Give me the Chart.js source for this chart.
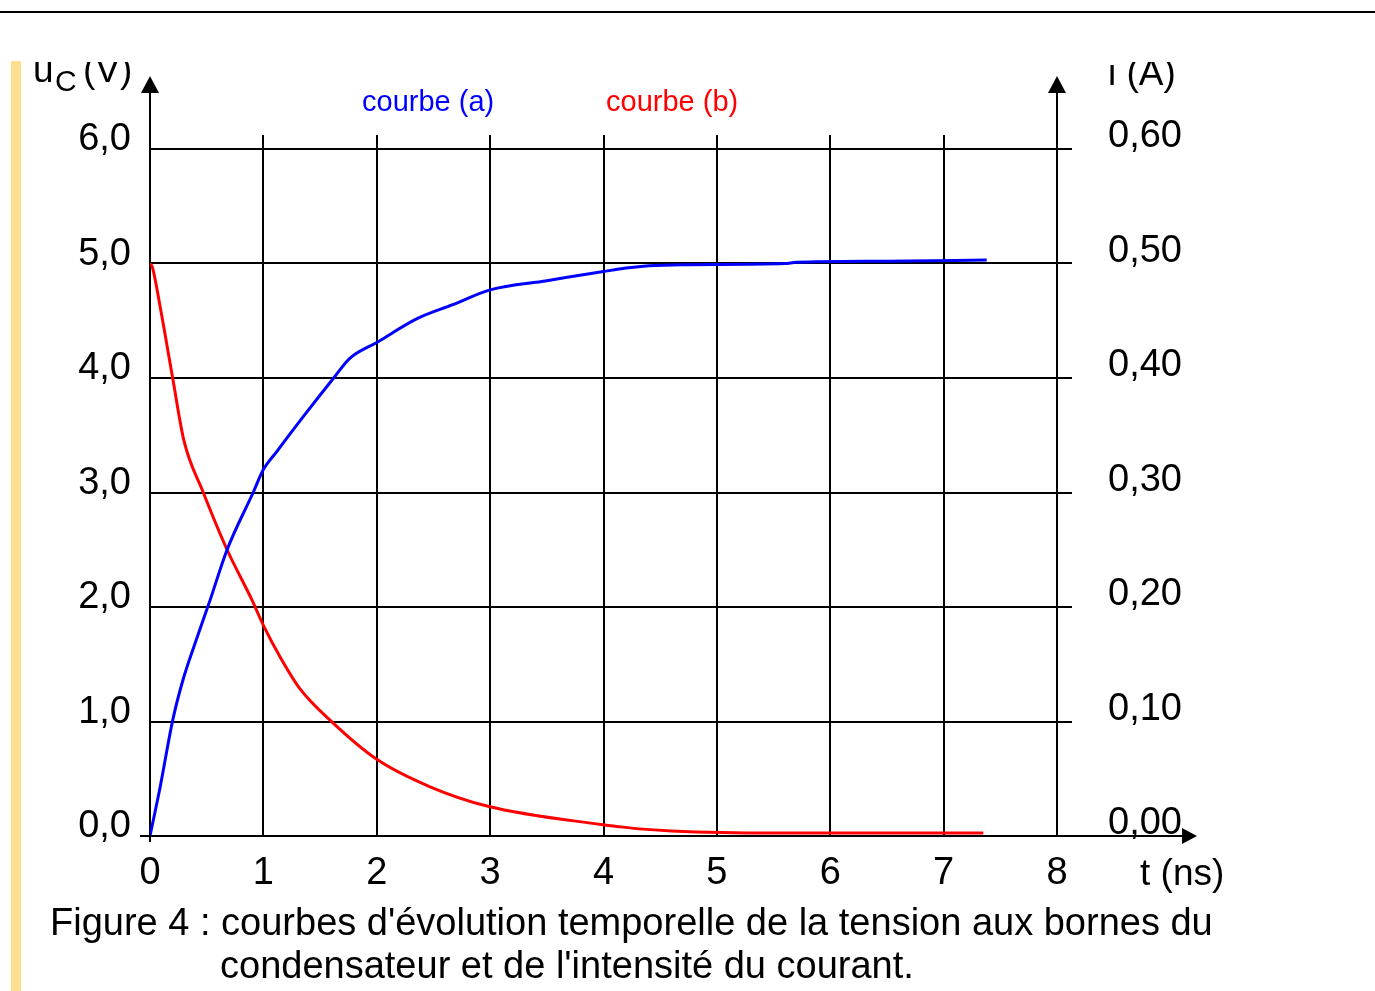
<!DOCTYPE html>
<html>
<head>
<meta charset="utf-8">
<script src="https://cdn.jsdelivr.net/npm/chart.js"></script>
<style>
  html, body { margin: 0; padding: 0; background: #fff; }
  body { width: 1375px; height: 991px; position: relative; overflow: hidden; font-family: "Liberation Sans", Arial, sans-serif; }
  #topline { position: absolute; left: 0; top: 11px; width: 1375px; height: 2px; background: #000; }
  #bar { position: absolute; left: 11px; top: 61px; width: 10px; height: 930px; background: #fddf8e; }
  #wrap { position: absolute; left: 0; top: 62px; width: 1375px; height: 929px; }
  .cap { position: absolute; font-size: 38px; line-height: 44px; color: #000; white-space: nowrap; }
</style>
</head>
<body>
<div id="topline"></div>
<div id="bar"></div>
<div id="wrap"><canvas id="graph" width="1375" height="929"></canvas></div>
<div class="cap" style="left:50px; top:900px;">Figure 4 : courbes d'évolution temporelle de la tension aux bornes du</div>
<div class="cap" style="left:220px; top:943px;">condensateur et de l'intensité du courant.</div>
<script>
// courbe (a) : tension uc (V)
var tA = [0, 0.09, 0.20, 0.29, 0.40, 0.53, 0.68, 0.91, 1.0, 1.12, 1.35, 1.62, 1.76, 2.0, 2.36, 2.67, 3.0, 3.5, 4.0, 4.2, 4.4, 4.7, 5.6, 5.7, 6.5, 7.38];
var uA = [0, 0.43, 1.01, 1.36, 1.69, 2.06, 2.50, 3.0, 3.20, 3.36, 3.66, 4.0, 4.17, 4.31, 4.52, 4.64, 4.77, 4.85, 4.93, 4.96, 4.98, 4.99, 5.0, 5.01, 5.02, 5.03];
// courbe (b) : intensite i (A)
var tB = [0, 0.02, 0.09, 0.20, 0.30, 0.47, 0.68, 0.90, 1.0, 1.15, 1.32, 1.59, 2.0, 2.47, 2.98, 3.98, 4.15, 4.35, 4.6, 5.5, 7.35];
var iB = [0.50, 0.497, 0.462, 0.400, 0.345, 0.300, 0.250, 0.206, 0.184, 0.156, 0.129, 0.101, 0.067, 0.043, 0.026, 0.010, 0.008, 0.006, 0.0044, 0.0026, 0.0026];

var tTicks = [0, 1, 2, 3, 4, 5, 6, 7, 8];
var uTicks = [0, 1, 2, 3, 4, 5, 6];
var iTicks = [0, 0.1, 0.2, 0.3, 0.4, 0.5, 0.6];

function pts(xs, ys) {
  var out = [];
  for (var k = 0; k < xs.length; k++) out.push({x: xs[k], y: ys[k]});
  return out;
}

var axisDeco = {
  id: 'axisDeco',
  afterDraw: function(chart) {
    var ctx = chart.ctx, a = chart.chartArea;
    var sx = chart.scales.x, sy = chart.scales.y;
    ctx.save();
    ctx.strokeStyle = '#000';
    ctx.fillStyle = '#000';
    ctx.lineWidth = 2;
    ctx.beginPath();
    // vertical lines going past the top
    for (var k = 1; k < tTicks.length - 1; k++) {
      var px = Math.round(sx.getPixelForValue(tTicks[k]));
      ctx.moveTo(px, a.top - 14); ctx.lineTo(px, a.top);
    }
    // horizontal lines going past the right axis
    for (var j = 1; j < uTicks.length; j++) {
      var py = Math.round(sy.getPixelForValue(uTicks[j]));
      ctx.moveTo(a.right, py); ctx.lineTo(a.right + 15, py);
    }
    // axes
    var L = Math.round(a.left), R = Math.round(a.right), B = Math.round(a.bottom);
    ctx.moveTo(L, a.top); ctx.lineTo(L, 31);
    ctx.moveTo(R, a.top); ctx.lineTo(R, 31);
    ctx.moveTo(L - 10, B); ctx.lineTo(R + 126, B);
    ctx.moveTo(L, B); ctx.lineTo(L, B + 6);
    ctx.stroke();
    // arrow heads
    function tri(x1, y1, x2, y2, x3, y3) {
      ctx.beginPath(); ctx.moveTo(x1, y1); ctx.lineTo(x2, y2); ctx.lineTo(x3, y3); ctx.closePath(); ctx.fill();
    }
    tri(L, 14, L - 9, 31, L + 9, 31);
    tri(R, 14, R - 9, 31, R + 9, 31);
    tri(R + 140, B, R + 125, B - 8, R + 125, B + 8);

    // axis titles
    ctx.textBaseline = 'alphabetic';
    ctx.textAlign = 'left';
    ctx.font = '37px "Liberation Sans", Arial, sans-serif';
    ctx.fillText('u', 33, 20);
    ctx.fillText('(V)', 83, 20);
    ctx.font = '30px "Liberation Sans", Arial, sans-serif';
    ctx.fillText('C', 55, 29);
    ctx.font = '37px "Liberation Sans", Arial, sans-serif';
    ctx.fillText('i (A)', 1108, 23);
    ctx.fillText('t (ns)', 1140, 823);

    // curve names
    ctx.font = '29px "Liberation Sans", Arial, sans-serif';
    var ds = chart.data.datasets;
    ctx.fillStyle = ds[0].borderColor;
    ctx.fillText(ds[0].label, 362, 49);
    ctx.fillStyle = ds[1].borderColor;
    ctx.fillText(ds[1].label, 606, 49);
    ctx.restore();
  }
};

var tickFont = { family: '"Liberation Sans", Arial, sans-serif', size: 38 };

new Chart(document.getElementById('graph'), {
  type: 'line',
  data: {
    datasets: [{
      label: 'courbe (a)',
      data: pts(tA, uA),
      borderColor: '#0000ff',
      borderWidth: 3,
      pointRadius: 0,
      cubicInterpolationMode: 'monotone',
      yAxisID: 'y'
    }, {
      label: 'courbe (b)',
      data: pts(tB, iB),
      borderColor: '#ff0000',
      borderWidth: 3,
      pointRadius: 0,
      cubicInterpolationMode: 'monotone',
      yAxisID: 'y2'
    }]
  },
  options: {
    responsive: false,
    animation: false,
    layout: { padding: { top: 87, left: 0, right: 0, bottom: 0 } },
    plugins: { legend: { display: false }, tooltip: { enabled: false } },
    scales: {
      x: {
        type: 'linear', min: 0, max: 8,
        afterBuildTicks: function(s) { s.ticks = tTicks.map(function(v) { return {value: v}; }); },
        afterFit: function(s) { s.height = 155; },
        ticks: { color: '#000', font: tickFont, padding: 15, maxRotation: 0, autoSkip: false },
        grid: { color: '#000', lineWidth: 2, drawTicks: false },
        border: { color: '#000', width: 2 }
      },
      y: {
        position: 'left', min: 0, max: 6,
        afterBuildTicks: function(s) { s.ticks = uTicks.map(function(v) { return {value: v}; }); },
        afterFit: function(s) { s.width = 150; },
        ticks: {
          color: '#000', font: tickFont, padding: 19, labelOffset: -9,
          callback: function(v) { return v.toFixed(1).replace('.', ','); }
        },
        grid: { color: '#000', lineWidth: 2, drawTicks: false },
        border: { color: '#000', width: 2 }
      },
      y2: {
        position: 'right', min: 0, max: 0.6,
        afterBuildTicks: function(s) { s.ticks = iTicks.map(function(v) { return {value: v}; }); },
        afterFit: function(s) { s.width = 318; },
        ticks: {
          color: '#000', font: tickFont, padding: 51, labelOffset: -12,
          callback: function(v) { return v.toFixed(2).replace('.', ','); }
        },
        grid: { drawOnChartArea: false, drawTicks: false },
        border: { color: '#000', width: 2 }
      }
    }
  },
  plugins: [axisDeco]
});
</script>
</body>
</html>
